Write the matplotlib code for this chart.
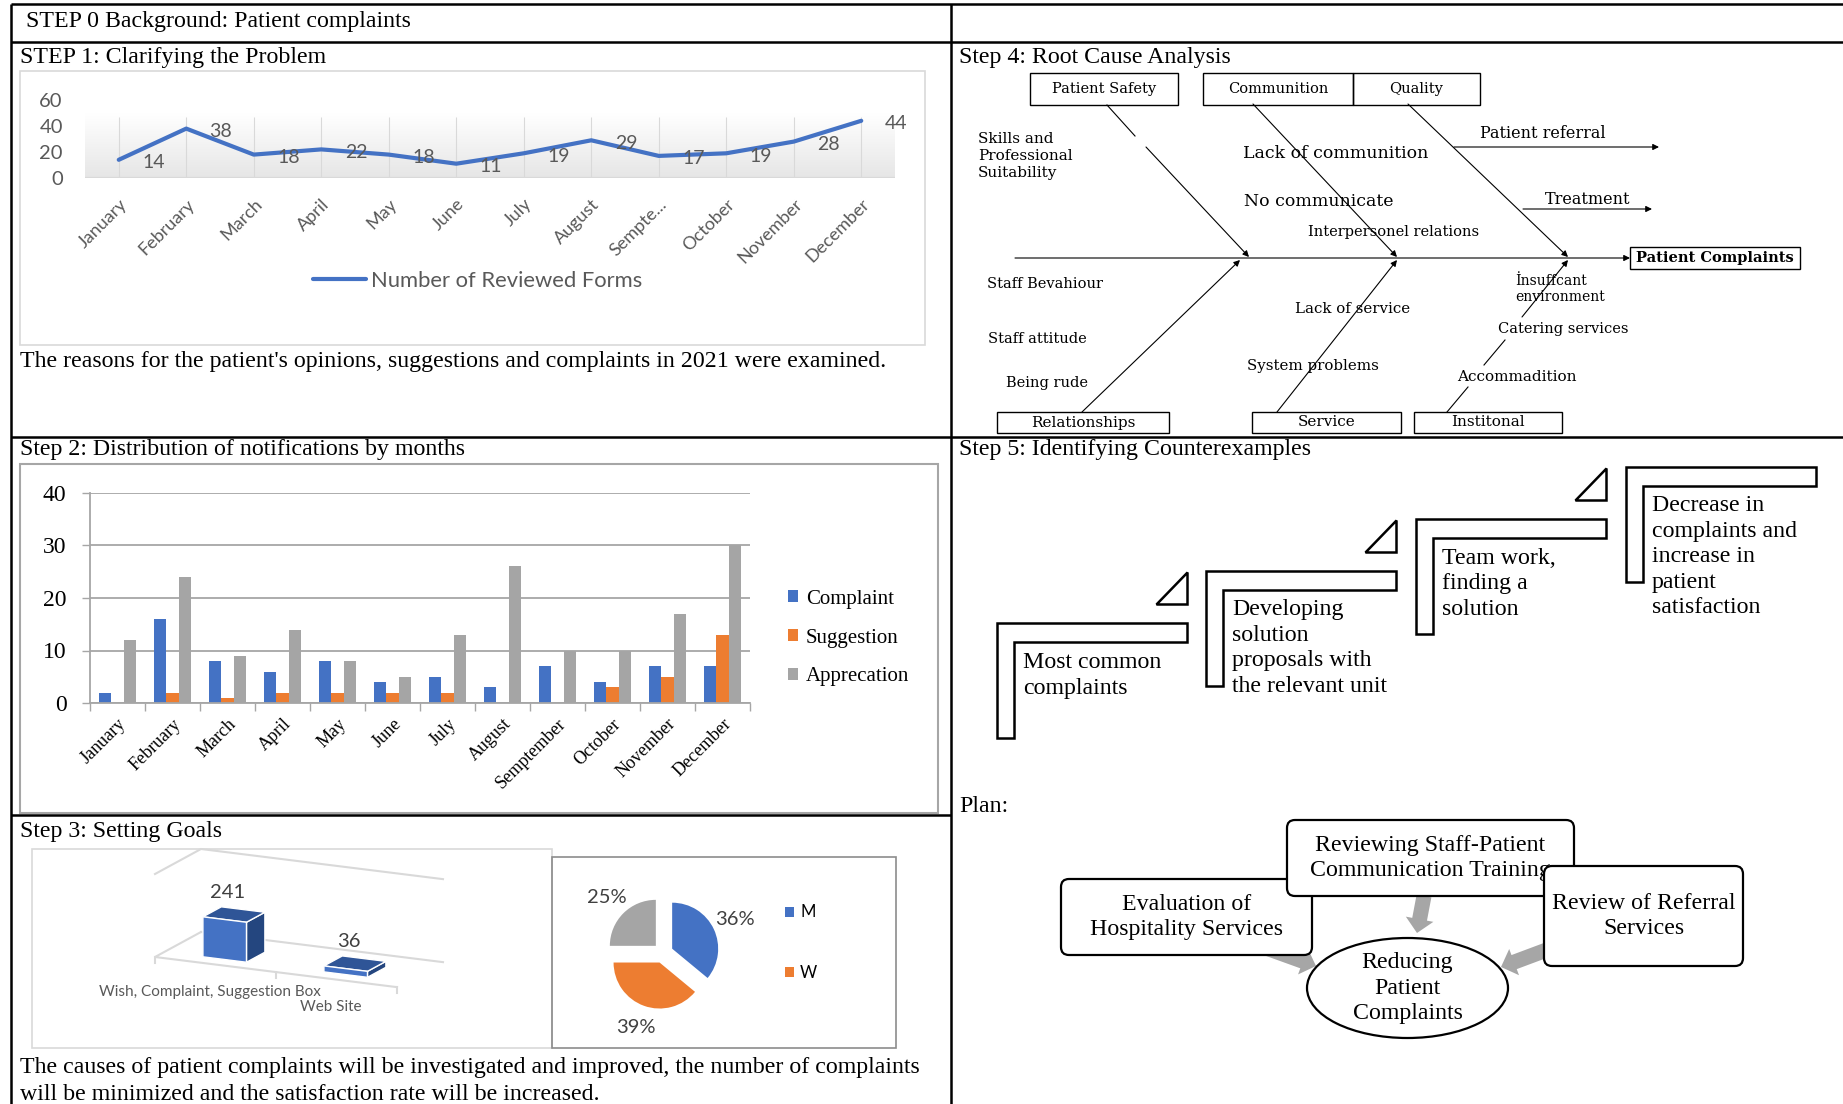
import numpy as np
import matplotlib
matplotlib.use('Agg')
import matplotlib.pyplot as plt
import matplotlib.transforms as mtransforms
from matplotlib.colors import LinearSegmentedColormap
from matplotlib.lines import Line2D
from matplotlib.patches import Rectangle, Polygon, FancyBboxPatch, Ellipse, FancyArrow

W, H = 1843, 1104
SERIF = 'Liberation Serif'
SANS = 'Lato'
FISH = 'DejaVu Serif'
MAIN = 17.2
plt.rcParams['font.family'] = SERIF

BLUE, ORANGE, GRAY = '#4472C4', '#ED7D31', '#A5A5A5'

# ---- data ----
months = ['January', 'February', 'March', 'April', 'May', 'June', 'July',
          'August', 'Semptember', 'October', 'November', 'December']
step1_ticks = ['January', 'February', 'March', 'April', 'May', 'June', 'July',
               'August', 'Sempte...', 'October', 'November', 'December']
reviewed_forms = [14, 38, 18, 22, 18, 11, 19, 29, 17, 19, 28, 44]

complaint = [2, 16, 8, 6, 8, 4, 5, 3, 7, 4, 7, 7]
suggestion = [0, 2, 1, 2, 2, 2, 2, 0, 0, 3, 5, 13]
appreciation = [12, 24, 9, 14, 8, 5, 13, 26, 10, 10, 17, 30]
notif_labels = ['Complaint', 'Suggestion', 'Apprecation']

channels = ['Wish, Complaint, Suggestion Box', 'Web Site']
channel_counts = [241, 36]

gender_share = [36, 39, 25]
gender_labels = ['M', 'W']


fig = plt.figure(figsize=(W / 100, H / 100), dpi=100)
base = fig.add_axes([0, 0, 1, 1])
base.set_xlim(0, W)
base.set_ylim(H, 0)
base.axis('off')


def box_axes(x0, y0, x1, y1):
    # axes placed by pixel box (top-down y)
    return fig.add_axes([x0 / W, 1 - y1 / H, (x1 - x0) / W, (y1 - y0) / H])


def say(x, y, s, size=MAIN, **kw):
    kw.setdefault('ha', 'left')
    kw.setdefault('va', 'center')
    return base.text(x, y, s, fontsize=size, **kw)


# ---- table grid ----
tab = dict(color='black', lw=1.8, solid_capstyle='butt')
base.plot([11, W], [4, 4], **tab)
base.plot([11, W], [42, 42], **tab)
base.plot([11, W], [437, 437], **tab)
base.plot([11, 951], [815, 815], **tab)
base.plot([11, 11], [4, H], **tab)
base.plot([951, 951], [4, H], **tab)

say(26, 21, 'STEP 0 Background: Patient complaints')
say(20, 57, 'STEP 1: Clarifying the Problem')
say(959, 57, 'Step 4: Root Cause Analysis')
say(20, 361, "The reasons for the patient's opinions, suggestions and complaints in 2021 were examined.")
say(20, 450, 'Step 2: Distribution of notifications by months')
say(959, 450, 'Step 5: Identifying Counterexamples')
say(20, 831, 'Step 3: Setting Goals')
say(959, 806, 'Plan:')
say(20, 1067, 'The causes of patient complaints will be investigated and improved, the number of complaints')
say(20, 1094, 'will be minimized and the satisfaction rate will be increased.')

# ---- step 1: line chart ----
base.add_patch(Rectangle((20, 71), 905, 274, fill=False, ec='#d9d9d9', lw=1.2))
ax1 = box_axes(85, 100, 895, 178)
xs = np.arange(len(reviewed_forms))
floor = LinearSegmentedColormap.from_list('floor', ['white', '#e6e6e6'])
ax1.imshow(np.linspace(1, 0, 100).reshape(-1, 1), extent=(-0.5, 11.5, 0, 50),
           aspect='auto', cmap=floor, origin='lower', zorder=0, vmin=0, vmax=1)
ax1.vlines(xs, 0, 47, color='#d9d9d9', lw=0.8, zorder=1)
ax1.axhline(0, color='#d9d9d9', lw=1.6, zorder=1)
ax1.plot(xs, reviewed_forms, color=BLUE, lw=3, solid_capstyle='round',
         solid_joinstyle='round', label='Number of Reviewed Forms', zorder=3)
for i, v in enumerate(reviewed_forms):
    ax1.annotate(str(v), (i, v), xytext=(25, -2), textcoords='offset points',
                 ha='center', va='center', fontsize=14, color='#595959', family=SANS)
ax1.set_xlim(-0.5, 11.5)
ax1.set_ylim(0, 60)
ax1.set_yticks([0, 20, 40, 60])
ax1.set_yticklabels(['0', '20', '40', '60'], fontfamily=SANS)
ax1.set_xticks(xs, step1_ticks, rotation=45, ha='right', rotation_mode='anchor',
               fontfamily=SANS)
ax1.tick_params(axis='y', length=0, pad=16, labelsize=14.5, labelcolor='#595959')
ax1.tick_params(axis='x', length=0, pad=13, labelsize=13, labelcolor='#595959')
for s in ax1.spines.values():
    s.set_visible(False)
ax1.legend(loc='center', bbox_to_anchor=(478 / W, 1 - 281 / H),
           bbox_transform=fig.transFigure, frameon=False,
           prop=dict(family=SANS, size=15.8), labelcolor='#595959',
           handlelength=2.4, handletextpad=0.25)

# ---- step 2: grouped bars ----
base.add_patch(Rectangle((20, 464), 918, 349, fill=False, ec='#a6a6a6', lw=1.5))
ax2 = box_axes(90, 493, 750, 703)
bw = 0.22
ax2.bar(xs - bw, complaint, bw, color=BLUE, label=notif_labels[0])
ax2.bar(xs, suggestion, bw, color=ORANGE, label=notif_labels[1])
ax2.bar(xs + bw, appreciation, bw, color=GRAY, label=notif_labels[2])
ax2.set_xlim(-0.5, 11.5)
ax2.set_ylim(0, 40)
ax2.set_yticks([0, 10, 20, 30, 40])
ax2.yaxis.grid(True, color='#a6a6a6', lw=1.3)
ax2.set_axisbelow(True)
ax2.set_xticks(xs, months, rotation=45, ha='right', rotation_mode='anchor')
ax2.set_xticks(np.arange(-0.5, 12, 1), minor=True)
ax2.tick_params(axis='x', which='major', length=0, pad=9, labelsize=13)
ax2.tick_params(axis='x', which='minor', length=6, color='#a6a6a6', width=1)
ax2.tick_params(axis='y', length=6, color='#a6a6a6', width=1, labelsize=17, pad=11)
for side in ('top', 'right'):
    ax2.spines[side].set_visible(False)
for side in ('left', 'bottom'):
    ax2.spines[side].set_color('#a6a6a6')
    ax2.spines[side].set_linewidth(1.3)
ax2.legend(loc='center left', bbox_to_anchor=(788 / W, 1 - 638 / H),
           bbox_transform=fig.transFigure, frameon=False, fontsize=15,
           handlelength=0.5, handleheight=0.5, handletextpad=0.35,
           labelspacing=0.95, borderpad=0, borderaxespad=0)

# ---- step 3: 3-D style column chart ----
base.add_patch(Rectangle((32, 849), 520, 199, fill=False, ec='#d9d9d9', lw=1.2))
base.add_patch(Rectangle((552, 857), 344, 191, fill=False, ec='#8c8c8c', lw=1.2))

ax3 = box_axes(155, 874, 397, 957)
ax3.set_xlim(0, len(channels))
ax3.set_ylim(0, 500)
ax3.axis('off')
o = ax3.transData.transform((0, 0))
slant = mtransforms.Affine2D().translate(-o[0], -o[1]).skew_deg(0, -7.1).translate(o[0], o[1])
T3 = ax3.transData + slant
DEPTH = np.array([46.0, 25.0])
ident = mtransforms.IdentityTransform()


def proj(cx, val, f):
    return T3.transform((cx, val)) + f * DEPTH


def poly_line(pts, **kw):
    pts = np.array(pts)
    base.add_line(Line2D(pts[:, 0], pts[:, 1], transform=ident, **kw))


wall = dict(color='#d9d9d9', lw=1.5)
poly_line([proj(0, 0, 1), proj(0, 0, 0), proj(2, 0, 0)], **wall)
poly_line([proj(0, 0, 1), proj(2, 0, 1)], **wall)
poly_line([proj(0, 500, 0), proj(0, 500, 1), proj(2, 500, 1)], **wall)
for cx in range(len(channels) + 1):
    p = proj(cx, 0, 0)
    poly_line([p, p - np.array([0, 6])], **wall)

col_w, f0, f1 = 0.36, 0.2, 0.6
for i, (name, v) in enumerate(zip(channels, channel_counts)):
    cx = i + 0.5
    a, b = cx - col_w / 2, cx + col_w / 2
    side = [proj(b, 0, f0), proj(b, 0, f1), proj(b, v, f1), proj(b, v, f0)]
    top = [proj(a, v, f0), proj(b, v, f0), proj(b, v, f1), proj(a, v, f1)]
    front = [proj(a, 0, f0), proj(b, 0, f0), proj(b, v, f0), proj(a, v, f0)]
    for pts, c in ((side, '#24467F'), (top, '#2F5597'), (front, BLUE)):
        base.add_patch(Polygon(pts, closed=True, transform=ident, fc=c,
                               ec='white', lw=1, zorder=3))
    pt = proj(cx, v, 0.4)
    base.text(pt[0] - 6, H - pt[1] - 22, str(v), ha='center', va='center',
              fontsize=14.5, color='#404040', family=SANS)
    pb = proj(cx, 0, 0)
    base.text(pb[0] - 6, H - pb[1] + 27, name, ha='center', va='center',
              fontsize=11, color='#595959', family=SANS)

# pie
axp = box_axes(605.5, 895.5, 720.5, 1010.5)
wedges, _, pcts = axp.pie(gender_share, colors=[BLUE, ORANGE, GRAY], startangle=90,
                          counterclock=False, explode=[0.22] * 3, autopct='%1.0f%%',
                          pctdistance=1.5,
                          textprops=dict(family=SANS, size=14.5, color='#404040'))
axp.set_xlim(-1.25, 1.25)
axp.set_ylim(-1.25, 1.25)
axp.set_aspect('equal')
fig.legend(wedges[:2], gender_labels, loc='center left',
           bbox_to_anchor=(785 / W, 1 - 942.5 / H), frameon=False,
           prop=dict(family=SANS, size=12), handlelength=0.55, handleheight=0.55,
           handletextpad=0.35, labelspacing=2.65, borderpad=0, borderaxespad=0)

# ---- step 4: fishbone ----
def fb_box(x0, y0, x1, y1, s, size=10.5, bold=False):
    base.add_patch(Rectangle((x0, y0), x1 - x0, y1 - y0, fill=False, ec='black', lw=1))
    base.text((x0 + x1) / 2, (y0 + y1) / 2, s, ha='center', va='center',
              fontsize=size, family=FISH, weight='bold' if bold else 'normal')


def arrow(p, q):
    base.annotate('', xy=q, xytext=p,
                  arrowprops=dict(arrowstyle='-|>', color='black', lw=0.8,
                                  mutation_scale=9, shrinkA=0, shrinkB=0))


def seg(p, q):
    base.plot([p[0], q[0]], [p[1], q[1]], color='black', lw=0.8)


fb_box(1030, 73, 1178, 105, 'Patient Safety')
fb_box(1203, 73, 1353, 105, 'Communition')
fb_box(1353, 73, 1480, 105, 'Quality')
fb_box(997, 412, 1169, 433, 'Relationships', size=11)
fb_box(1252, 412, 1401, 433, 'Service', size=11)
fb_box(1414, 412, 1562, 433, 'Institonal', size=11)
fb_box(1630, 247, 1800, 269, 'Patient Complaints', bold=True)

arrow((1015, 258), (1630, 258))
seg((1107, 105), (1135, 136))
arrow((1146, 147), (1249, 257))
arrow((1253, 104), (1397, 257))
arrow((1408, 104), (1568, 257))
arrow((1082, 412), (1240, 260))
arrow((1277, 412), (1397, 260))
seg((1447, 412), (1468, 387))
seg((1484, 365), (1505, 340))
arrow((1522, 317), (1568, 260))
arrow((1454, 147), (1659, 147))
arrow((1523, 209), (1652, 209))

fish_labels = [
    ('Skills and\nProfessional\nSuitability', 978, 156, 11),
    ('Lack of communition', 1243, 154, 12.5),
    ('No communicate', 1244, 201, 12.5),
    ('Interpersonel relations', 1308, 232, 10.5),
    ('Patient referral', 1480, 133, 11.5),
    ('Treatment', 1545, 199, 11.5),
    ('Staff Bevahiour', 987, 284, 10.5),
    ('Lack of service', 1295, 309, 10.8),
    ('\u0130nsuffcant\nenvironment', 1515, 289, 10),
    ('Catering services', 1498, 329, 10.5),
    ('Staff attitude', 988, 339, 10.5),
    ('System problems', 1247, 366, 10.8),
    ('Accommadition', 1457, 377, 11),
    ('Being rude', 1006, 383, 10.5),
]
for s, x, y, size in fish_labels:
    base.text(x, y, s, ha='left', va='center', fontsize=size, family=FISH,
              linespacing=1.25)

# ---- step 5: staircase ----
stairs = [
    (997, 623, 'Most common\ncomplaints'),
    (1206, 571, 'Developing\nsolution\nproposals with\nthe relevant unit'),
    (1416, 519, 'Team work,\nfinding a\nsolution'),
    (1626, 467, 'Decrease in\ncomplaints and\nincrease in\npatient\nsatisfaction'),
]
SW, SH, TH, TV = 190, 115, 19, 17
for k, (x0, y0, txt) in enumerate(stairs):
    pts = [(x0, y0), (x0 + SW, y0), (x0 + SW, y0 + TH), (x0 + TV, y0 + TH),
           (x0 + TV, y0 + SH), (x0, y0 + SH)]
    base.add_patch(Polygon(pts, closed=True, fc='white', ec='black', lw=1.8))
    if k < len(stairs) - 1:
        xr, yb = x0 + SW, y0 - 19
        base.add_patch(Polygon([(xr - 31, yb), (xr, yb), (xr, yb - 32)], closed=True,
                               fc='white', ec='black', lw=1.8))
    n = txt.count('\n') + 1
    base.text(x0 + 26, y0 + 40 + (n - 1) * 12.4, txt, ha='left', va='center',
              fontsize=MAIN, linespacing=1.28)

# ---- plan ----
arrow_kw = dict(width=15, head_width=28, head_length=14, length_includes_head=True,
                color='#a6a6a6', lw=0, zorder=2)
base.add_patch(FancyArrow(1424, 896, -7, 37, **arrow_kw))
base.add_patch(FancyArrow(1230, 935, 86, 31, **arrow_kw))
base.add_patch(FancyArrow(1600, 930, -99, 37, **arrow_kw))


def plan_box(x0, y0, x1, y1, s, z):
    base.add_patch(FancyBboxPatch((x0, y0), x1 - x0, y1 - y0,
                                  boxstyle='round,pad=0,rounding_size=8',
                                  fc='white', ec='black', lw=1.6, zorder=z))
    base.text((x0 + x1) / 2, (y0 + y1) / 2, s, ha='center', va='center',
              fontsize=MAIN, linespacing=1.28, zorder=z + 0.5)


base.add_patch(Ellipse((1407.5, 988), 201, 100, fc='white', ec='black', lw=1.6, zorder=3))
base.text(1407.5, 988, 'Reducing\nPatient\nComplaints', ha='center', va='center',
          fontsize=MAIN, linespacing=1.28, zorder=3.5)
plan_box(1061, 879, 1312, 955, 'Evaluation of\nHospitality Services', 4)
plan_box(1287, 820, 1574, 896, 'Reviewing Staff-Patient\nCommunication Training', 5)
plan_box(1544, 866, 1743, 966, 'Review of Referral\nServices', 6)

fig.savefig('out.png', dpi=100)
